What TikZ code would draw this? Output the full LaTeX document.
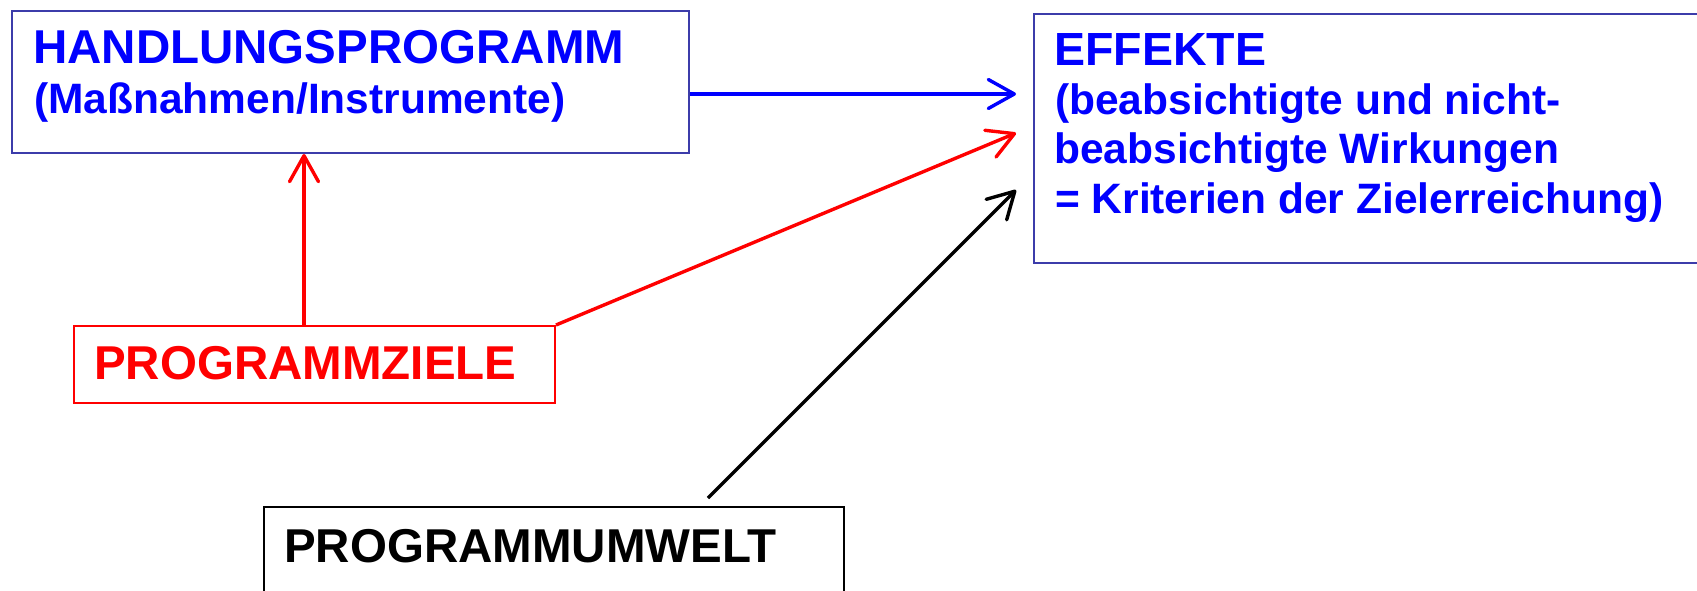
\documentclass[tikz,border=0pt]{standalone}
\usepackage{fontspec}
\setmainfont{Liberation Sans}
\usetikzlibrary{arrows.meta}
\definecolor{tblue}{RGB}{0,0,255}
\definecolor{frameblue}{RGB}{60,60,170}
\definecolor{tred}{RGB}{255,0,0}
\begin{document}
\begin{tikzpicture}[x=1pt,y=-1pt,
  box/.style={draw, line width=2pt, inner sep=0, anchor=north west},
  big/.style={font=\fontsize{47.5}{50}\selectfont\bfseries, inner sep=0, anchor=base west},
  eff/.style={font=\fontsize{46.5}{50}\selectfont\bfseries, inner sep=0, anchor=base west},
  small/.style={font=\fontsize{42.5}{50}\selectfont\bfseries, inner sep=0, anchor=base west},
  arr/.style={line width=3.4pt, -{Straight Barb[length=26pt,width=29pt,round]}}]
\useasboundingbox (0,0) rectangle (1697,590);
\clip (0,0) rectangle (1697,590);
% boxes
\node[box, draw=frameblue, minimum width=677pt, minimum height=142pt] (hp) at (11,10) {};
\node[box, draw=frameblue, minimum width=700pt, minimum height=249pt] (ef) at (1033,13) {};
\node[box, draw=tred, minimum width=481pt, minimum height=77pt] (pz) at (73,325) {};
\node[box, draw=black, minimum width=580pt, minimum height=120pt] (pu) at (263,506) {};
% texts
\node[big, text=tblue] (hpt) at (33,63) {HANDLUNGSPROGRAMM};
\node[small, text=tblue] (hps) at (34,113) {(Maßnahmen/Instrumente)};
\node[eff, text=tblue] (eft) at (1054,65) {EFFEKTE};
\node[small, text=tblue] (ef1) at (1055,114) {(beabsichtigte und nicht-};
\node[small, text=tblue] (ef2) at (1054,163) {beabsichtigte Wirkungen};
\node[small, text=tblue] (ef3) at (1055,213) {= Kriterien der Zielerreichung)};
\node[big, text=tred] (pzt) at (94,379) {PROGRAMMZIELE};
\node[big, text=black] (put) at (284,562) {PROGRAMMUMWELT};
% connectors
\coordinate (tb) at (1016,94);
\coordinate (tr) at (1016,133);
\coordinate (tk) at (1016,190);
\coordinate (kb) at (708,498);
\coordinate (zx) at (304,0);
\draw[arr, tblue] (hp.east |- tb) -- (tb);
\draw[arr, tred] (pz.north -| zx) -- (hp.south -| zx);
\draw[arr, tred] (pz.north east) -- (tr);
\draw[arr, black] (kb) -- (tk);
\end{tikzpicture}
\end{document}
